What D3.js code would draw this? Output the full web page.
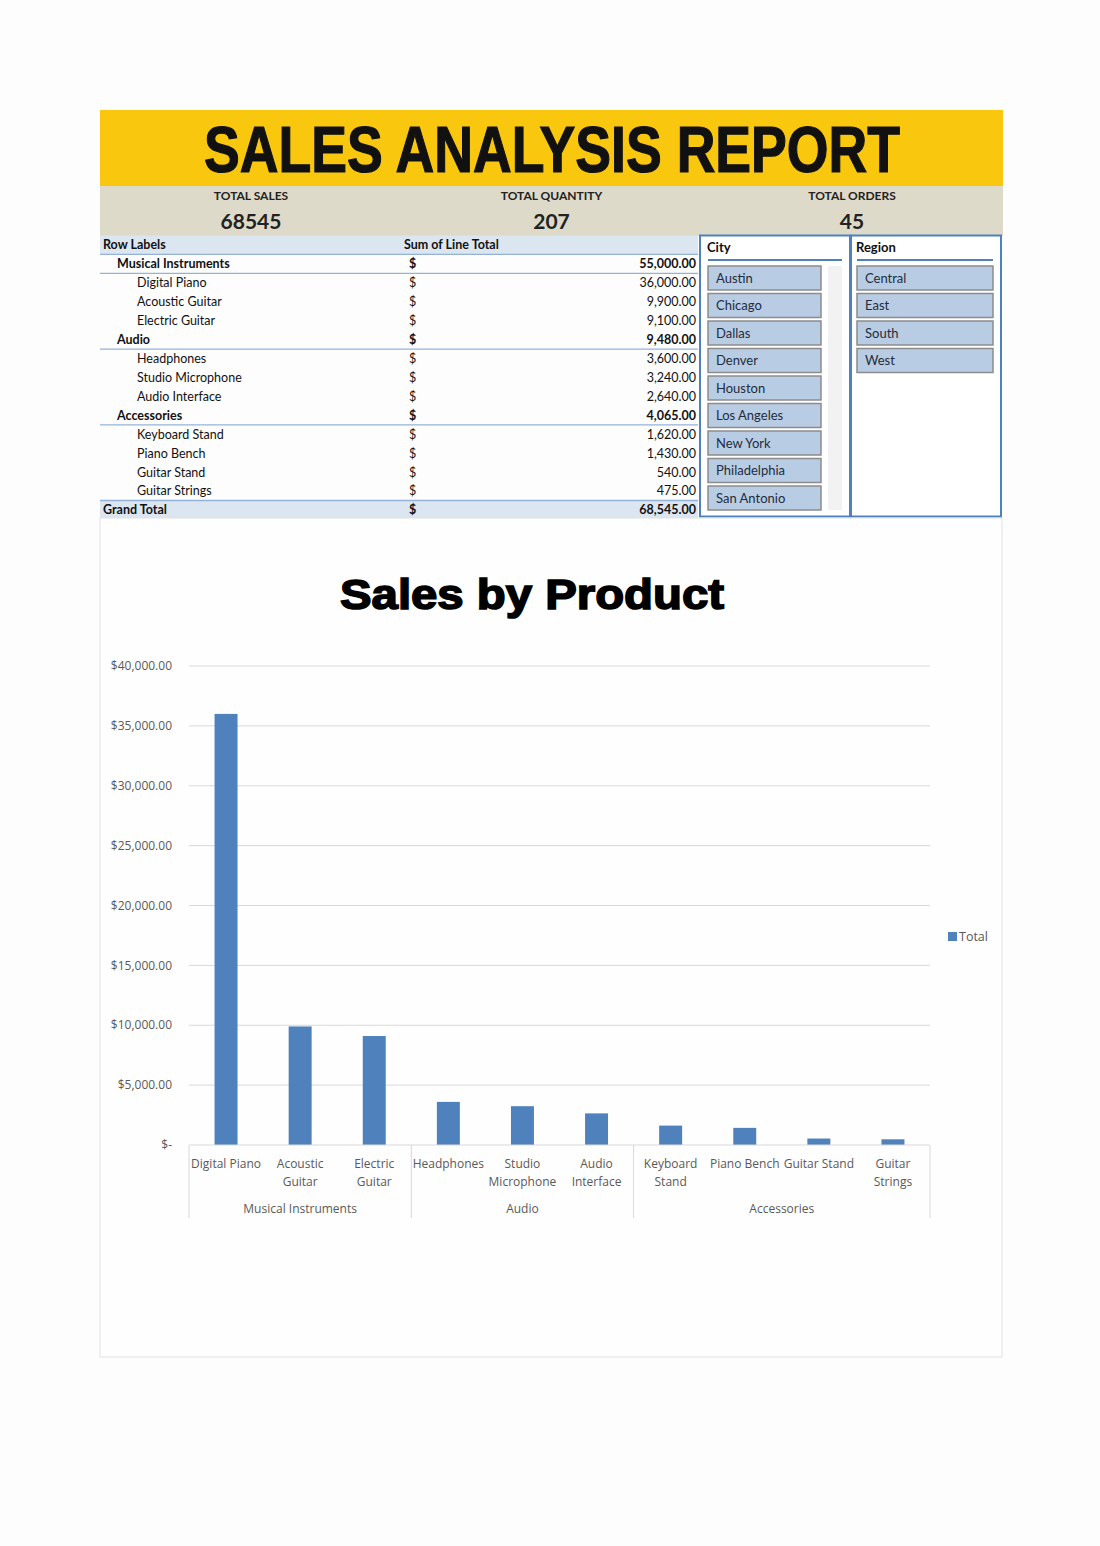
<!DOCTYPE html>
<html><head><meta charset="utf-8">
<script src="https://cdn.jsdelivr.net/npm/d3@7"></script>
<style>body{margin:0;background:#fdfdfe;}svg{display:block;}</style>
</head><body><svg id="c" width="1100" height="1546"></svg>
<script>
// ---------- data ----------
const groups = ["Musical Instruments", "Audio", "Accessories"];
const products = ["Digital Piano","Acoustic Guitar","Electric Guitar","Headphones","Studio Microphone","Audio Interface","Keyboard Stand","Piano Bench","Guitar Stand","Guitar Strings"];
const productGroup = ["Musical Instruments","Musical Instruments","Musical Instruments","Audio","Audio","Audio","Accessories","Accessories","Accessories","Accessories"];
const productLabelLines = [["Digital Piano"],["Acoustic","Guitar"],["Electric","Guitar"],["Headphones"],["Studio","Microphone"],["Audio","Interface"],["Keyboard","Stand"],["Piano Bench"],["Guitar Stand"],["Guitar","Strings"]];
const salesValues = [36000, 9900, 9100, 3600, 3240, 2640, 1620, 1430, 540, 475];
const yTicks = [0, 5000, 10000, 15000, 20000, 25000, 30000, 35000, 40000];
const kpiLabels = ["TOTAL SALES", "TOTAL QUANTITY", "TOTAL ORDERS"];
const kpiValues = ["68545", "207", "45"];
const cities = ["Austin","Chicago","Dallas","Denver","Houston","Los Angeles","New York","Philadelphia","San Antonio"];
const regions = ["Central","East","South","West"];

const svg = d3.select("#c");
const font = "Lato, 'Open Sans', sans-serif";

// ---------- header ----------
svg.append("rect").attr("x",100).attr("y",110).attr("width",903).attr("height",76).attr("fill","#F9C80E");
svg.append("text").attr("x",552).attr("y",172).attr("text-anchor","middle")
  .attr("font-family","'Liberation Sans Narrow','Liberation Sans',Arial,sans-serif").attr("font-weight","bold")
  .attr("font-size",64).attr("textLength",696).attr("lengthAdjust","spacingAndGlyphs")
  .attr("fill","#111").attr("stroke","#111").attr("stroke-width",1.2).text("SALES ANALYSIS REPORT");
svg.append("rect").attr("x",100).attr("y",186).attr("width",903).attr("height",50).attr("fill","#DEDACA");
const kpiX = d3.scalePoint().domain(kpiLabels).range([251, 852]);
kpiLabels.forEach((k,i)=>{
  svg.append("text").attr("x",kpiX(k)).attr("y",200).attr("text-anchor","middle")
    .attr("font-family",font).attr("font-weight","bold").attr("font-size",12).attr("fill","#222").text(k);
  svg.append("text").attr("x",kpiX(k)).attr("y",229).attr("text-anchor","middle")
    .attr("font-family",font).attr("font-weight","bold").attr("font-size",21).attr("fill","#222").text(kpiValues[i]);
});

// ---------- pivot table ----------
const rows = [];
groups.forEach(g=>{
  const idx = products.map((p,i)=>i).filter(i=>productGroup[i]===g);
  rows.push({label:g, level:1, value:d3.sum(idx,i=>salesValues[i]), bold:true});
  idx.forEach(i=>rows.push({label:products[i], level:2, value:salesValues[i], bold:false}));
});
const grand = d3.sum(salesValues);
const rowCenter = d3.scaleLinear().domain([0, rows.length+1]).range([245, 510]);
const rh = rowCenter(1)-rowCenter(0);
const fmt = d3.format(",.2f");
const tbl = svg.append("g").attr("font-family",font).attr("font-size",12.5).attr("fill","#111");
tbl.append("rect").attr("x",100).attr("y",rowCenter(0)-rh/2).attr("width",598).attr("height",rh).attr("fill","#DCE6F1");
tbl.append("line").attr("x1",100).attr("x2",698).attr("y1",rowCenter(0)+rh/2).attr("y2",rowCenter(0)+rh/2).attr("stroke","#95B3D7").attr("stroke-width",1.2);
tbl.append("text").attr("x",103).attr("y",rowCenter(0)).attr("dy","0.35em").attr("font-weight","bold").text("Row Labels");
tbl.append("text").attr("x",404).attr("y",rowCenter(0)).attr("dy","0.35em").attr("font-weight","bold").text("Sum of Line Total");
rows.forEach((r,i)=>{
  const cy = rowCenter(i+1);
  if(r.level===1){
    tbl.append("line").attr("x1",100).attr("x2",698).attr("y1",cy+rh/2).attr("y2",cy+rh/2).attr("stroke","#95B3D7").attr("stroke-width",1.2);
  }
  tbl.append("text").attr("x",r.level===1?117:137).attr("y",cy).attr("dy","0.35em").attr("font-weight",r.bold?"bold":"normal").text(r.label);
  tbl.append("text").attr("x",409).attr("y",cy).attr("dy","0.35em").attr("font-weight",r.bold?"bold":"normal").text("$");
  tbl.append("text").attr("x",696).attr("y",cy).attr("dy","0.35em").attr("text-anchor","end").attr("font-weight",r.bold?"bold":"normal").text(fmt(r.value));
});
const gy = rowCenter(rows.length+1);
tbl.append("rect").attr("x",100).attr("y",gy-rh/2).attr("width",598).attr("height",rh).attr("fill","#DCE6F1");
tbl.append("line").attr("x1",100).attr("x2",698).attr("y1",gy-rh/2).attr("y2",gy-rh/2).attr("stroke","#95B3D7").attr("stroke-width",1.5);
tbl.append("text").attr("x",103).attr("y",gy).attr("dy","0.35em").attr("font-weight","bold").text("Grand Total");
tbl.append("text").attr("x",409).attr("y",gy).attr("dy","0.35em").attr("font-weight","bold").text("$");
tbl.append("text").attr("x",696).attr("y",gy).attr("dy","0.35em").attr("text-anchor","end").attr("font-weight","bold").text(fmt(grand));

// ---------- slicers ----------
function slicer(x, w, title, items, scroll){
  const g = svg.append("g").attr("font-family",font);
  const pad = scroll ? 8 : 6;
  g.append("rect").attr("x",x).attr("y",235.5).attr("width",w).attr("height",281).attr("fill","#fff").attr("stroke","#4F81BD").attr("stroke-width",2);
  g.append("text").attr("x",x+pad-1).attr("y",252).attr("font-size",13).attr("font-weight","bold").attr("fill","#111").text(title);
  g.append("line").attr("x1",x+pad).attr("x2",x+w-8).attr("y1",260).attr("y2",260).attr("stroke","#4F81BD").attr("stroke-width",2);
  if(scroll) g.append("rect").attr("x",x+128).attr("y",266).attr("width",14).attr("height",244).attr("fill","#F2F2F2");
  const by = d3.scaleLinear().domain([0,1]).range([266, 293.5]);
  const bw = scroll ? 113 : 136;
  items.forEach((it,i)=>{
    g.append("rect").attr("x",x+pad).attr("y",by(i)).attr("width",bw).attr("height",24).attr("fill","#B8CCE4").attr("stroke","#8C8C8C").attr("stroke-width",1.5);
    g.append("text").attr("x",x+pad+8).attr("y",by(i)+12).attr("dy","0.35em").attr("font-size",13).attr("fill","#1F2D3D").text(it);
  });
}
slicer(700, 150, "City", cities, true);
slicer(851, 150, "Region", regions, false);

// ---------- chart ----------
svg.append("rect").attr("x",100).attr("y",518).attr("width",902).attr("height",839).attr("fill","#fefefe").attr("stroke","#E2E2E2").attr("stroke-width",1);
svg.append("text").attr("x",532).attr("y",609).attr("text-anchor","middle")
  .attr("font-family","'Liberation Sans',Arial,sans-serif").attr("font-weight","bold").attr("font-size",42)
  .attr("textLength",384).attr("lengthAdjust","spacingAndGlyphs")
  .attr("fill","#000").attr("stroke","#000").attr("stroke-width",1.6).text("Sales by Product");

const x = d3.scaleBand().domain(products).range([189, 930]);
const y = d3.scaleLinear().domain([0, 40000]).range([1145, 666]);
const chart = svg.append("g").attr("font-family","'Open Sans',Lato,sans-serif");

chart.selectAll("line.grid").data(yTicks.filter(t=>t>0)).join("line")
  .attr("x1",189).attr("x2",930).attr("y1",d=>y(d)).attr("y2",d=>y(d)).attr("stroke","#D9D9D9").attr("stroke-width",1);
chart.selectAll("text.ytick").data(yTicks).join("text")
  .attr("x",172).attr("y",d=>y(d)).attr("dy","0.35em").attr("text-anchor","end")
  .attr("font-size",12).attr("fill","#595959")
  .text(d=> d===0 ? "$-" : "$" + d3.format(",.2f")(d));

const bw = x.bandwidth()*0.31;
chart.selectAll("rect.bar").data(products).join("rect")
  .attr("x",(d)=>x(d)+x.bandwidth()/2-bw/2).attr("width",bw)
  .attr("y",(d,i)=>y(salesValues[i])).attr("height",(d,i)=>y(0)-y(salesValues[i]))
  .attr("fill","#4F81BD");

chart.append("line").attr("x1",189).attr("x2",930).attr("y1",y(0)).attr("y2",y(0)).attr("stroke","#D9D9D9");
// group separators
const groupBounds = groups.map(g=>{
  const ps = products.filter((p,i)=>productGroup[i]===g);
  return {g, x0:x(ps[0]), x1:x(ps[ps.length-1])+x.bandwidth()};
});
const sepX = [groupBounds[0].x0].concat(groupBounds.map(b=>b.x1));
chart.selectAll("line.sep").data(sepX).join("line")
  .attr("x1",d=>d).attr("x2",d=>d).attr("y1",y(0)).attr("y2",1218).attr("stroke","#D9D9D9");
products.forEach((p,i)=>{
  const t = chart.append("text").attr("x",x(p)+x.bandwidth()/2).attr("y",1168).attr("text-anchor","middle")
    .attr("font-size",12).attr("fill","#595959");
  productLabelLines[i].forEach((ln,j)=>t.append("tspan").attr("x",x(p)+x.bandwidth()/2).attr("dy",j?18:0).text(ln));
});
groupBounds.forEach(b=>{
  chart.append("text").attr("x",(b.x0+b.x1)/2).attr("y",1213).attr("text-anchor","middle")
    .attr("font-size",12).attr("fill","#595959").text(b.g);
});
// legend
chart.append("rect").attr("x",948).attr("y",932).attr("width",9).attr("height",9).attr("fill","#4F81BD");
chart.append("text").attr("x",959).attr("y",937).attr("dy","0.35em").attr("font-size",12.5).attr("fill","#595959").text("Total");
</script></body></html>
